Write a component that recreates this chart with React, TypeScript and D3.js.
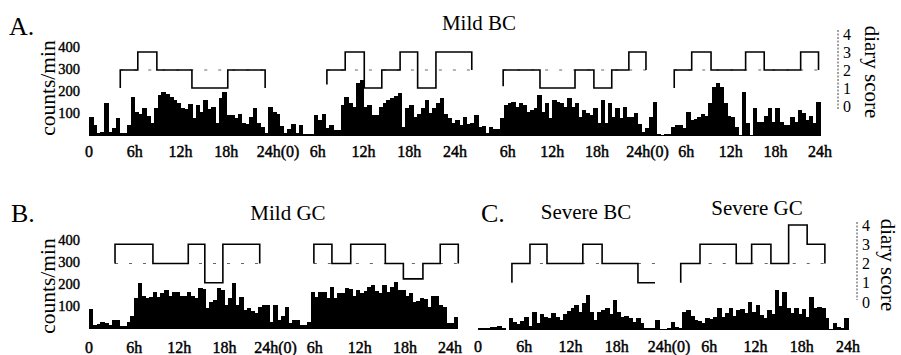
import React from "react";
import * as d3 from "d3";

// ---------- data ----------
const xTickHours = [0, 6, 12, 18, 24, 30, 36, 42, 48];
const xTickLabels = ["0", "6h", "12h", "18h", "24h(0)", "6h", "12h", "18h", "24h"];
const countTicks = [100, 200, 300, 400];
const scoreTicks = [0, 1, 2, 3, 4];
const binHours = 0.5;

// activity counts/min, 30-min bins starting at 0h
const mildBC1Counts = [
  85, 50, 12, 20, 150, 20, 35, 80, 12, 12,
  50, 175, 110, 100, 125, 90, 60, 125, 185, 200,
  190, 175, 160, 150, 125, 120, 145, 80, 140, 110,
  160, 120, 130, 60, 170, 200, 95, 95, 80, 100,
  60, 55, 85, 125, 60, 40, 15, 130, 110, 100,
  45, 12, 30, 55, 15, 50, 8, 8, 8, 95,
  70, 100, 35, 50, 25, 25, 140, 175, 150, 130,
  240, 250, 130, 140, 95, 95, 130, 150, 160, 170,
  180, 195, 40, 125, 140, 85, 100, 125, 160, 105,
  125, 150, 170, 100, 80, 60, 70, 50, 85, 55,
  60, 95, 40,
];
const mildBC2Counts = [
  0, 0, 0, 0, 40, 45, 15, 40, 30, 30,
  80, 140, 150, 155, 130, 150, 140, 110, 115, 125,
  185, 110, 150, 80, 160, 155, 150, 130, 170, 130,
  150, 85, 115, 105, 95, 125, 60, 160, 60, 150,
  85, 125, 80, 130, 85, 85, 105, 55, 20, 35,
  85, 155, 10, 5, 10, 10, 40, 50, 50, 35,
  110, 70, 75, 85, 100, 90, 150, 220, 240, 220,
  150, 90, 85, 40, 5, 200, 60, 5, 125, 65,
  65, 90, 125, 65, 125, 65, 50, 50, 85, 65,
  115, 105, 70, 90, 60, 155,
];
const mildGCCounts = [
  90, 20, 22, 30, 28, 18, 40, 40, 12, 12,
  30, 60, 140, 205, 150, 140, 145, 165, 145, 160,
  175, 150, 165, 165, 150, 150, 165, 150, 140, 185,
  180, 95, 120, 130, 185, 175, 110, 140, 205, 110,
  145, 85, 95, 80, 70, 100, 107, 107, 30, 107,
  40, 60, 100, 25, 40, 40, 18, 18, 30, 165,
  145, 165, 165, 140, 190, 140, 160, 160, 185, 180,
  150, 175, 160, 170, 190, 200, 170, 160, 200, 165,
  190, 210, 175, 175, 150, 160, 120, 125, 140, 135,
  100, 150, 150, 110, 100, 25, 25, 55,
];
const severeCounts = [
  8, 8, 8, 12, 15, 18, 10, 0, 55, 37,
  25, 40, 60, 20, 80, 30, 70, 60, 55, 75,
  60, 45, 70, 85, 100, 112, 80, 120, 157, 80,
  45, 80, 90, 97, 70, 135, 80, 60, 65, 55,
  35, 52, 30, 10, 8, 10, 45, 5, 5, 8,
  35, 12, 8, 80, 90, 65, 45, 40, 30, 55,
  50, 60, 97, 58, 75, 100, 65, 90, 95, 75,
  125, 80, 112, 67, 55, 90, 70, 180, 110, 170,
  100, 75, 100, 70, 95, 60, 150, 100, 105, 100,
  55, 5, 30, 15, 10, 55,
];

// diary score step traces (hour, score)
const bc1Day1Hours = [4.1, 4.1, 6.4, 8.9, 13.5, 18.2, 23.1];
const bc1Day1Scores = [1, 2, 3, 2, 1, 2, 1];
const bc1Day2Hours = [31.2, 31.2, 33.6, 36.1, 38.4, 40.8, 43.1, 45.5, 50.2];
const bc1Day2Scores = [1.2, 2, 3, 1, 2, 3, 1, 3, 2];
const bc2Day1Hours = [5.4, 5.4, 10.35, 15.06, 17.6, 20.0, 22.3, 24.6];
const bc2Day1Scores = [1.1, 2, 1, 2, 1, 2, 3, 2];
const bc2Day2Hours = [28.4, 28.4, 30.75, 33.35, 38.0, 40.5, 45.4, 47.8];
const bc2Day2Scores = [1, 2, 3, 2, 3, 2, 3, 2];
const gcDay1Hours = [3.46, 3.46, 8.5, 13.2, 15.4, 17.8, 22.7];
const gcDay1Scores = [2, 3, 2, 3, 1, 3, 2];
const gcDay2Hours = [29.9, 29.9, 32.3, 34.8, 39.4, 41.8, 44.4, 46.7, 49.1];
const gcDay2Scores = [2, 3, 2, 3, 2, 1.2, 2, 3, 2];
const sevBCHours = [4.4, 4.4, 6.74, 8.95, 13.6, 16.1, 20.75, 22.96];
const sevBCScores = [1, 2, 3, 2, 3, 2, 1, 1];
const sevGCHours = [26.3, 26.3, 28.8, 33.5, 35.5, 38.0, 40.3, 42.7, 45.0];
const sevGCScores = [1, 2, 3, 2, 3, 2, 4, 3, 2];

// ---------- drawing ----------
const serif = '"Liberation Serif", "Times New Roman", Times, "DejaVu Serif", serif';

type Trace = { t: number[]; v: number[] };

function Record(props: {
  counts: number[];
  x0: number; x1: number;
  base: number; top: number;
  d0: number; d4: number;
  traces: Trace[];
  firstLabel: number;
  labelY: number;
}) {
  const { counts, x0, x1, base, top, d0, d4, traces, firstLabel, labelY } = props;
  const xs = d3.scaleLinear().domain([0, 48]).range([x0, x1]);
  const ys = d3.scaleLinear().domain([0, 400]).range([base, top]);
  const ds = d3.scaleLinear().domain([0, 4]).range([d0, d4]);
  const bw = xs(binHours) - xs(0);
  return (
    <g>
      <g shapeRendering="crispEdges">
        {counts.map((c, i) =>
          c > 0 ? (
            <rect
              key={i}
              x={xs(i * binHours)}
              y={ys(c)}
              width={bw + 0.7}
              height={base - ys(c)}
              fill="#000"
            />
          ) : null
        )}
      </g>
      {traces.map((tr, k) => {
        const pts: [number, number][] = tr.t.map((t, i) => [xs(t), ds(tr.v[i])]);
        const p = d3.line().curve(d3.curveStepAfter)(pts) || "";
        return (
          <g key={k}>
            <line
              x1={xs(tr.t[0])}
              x2={xs(tr.t[tr.t.length - 1])}
              y1={ds(2)}
              y2={ds(2)}
              stroke="#666"
              strokeWidth={1}
              strokeDasharray="3,11"
            />
            <path d={p} fill="none" stroke="#000" strokeWidth={1.6} />
          </g>
        );
      })}
      {xTickHours.map((h, i) =>
        i >= firstLabel ? (
          <text
            key={i}
            x={xs(h) + (xTickLabels[i] === "24h(0)" ? 6 : 0)}
            y={labelY}
            textAnchor="middle"
            fontFamily={serif}
            fontSize={16}
            stroke="#000"
            strokeWidth={0.45}
          >
            {xTickLabels[i]}
          </text>
        ) : null
      )}
    </g>
  );
}

function CountAxis(props: { base: number; top: number; cy: number }) {
  const ys = d3.scaleLinear().domain([0, 400]).range([props.base, props.top]);
  return (
    <g>
      {countTicks.map((v) => (
        <text key={v} x={80} y={ys(v) + 4.5} textAnchor="end" fontFamily={serif} fontSize={14.5} stroke="#000" strokeWidth={0.4}>
          {v}
        </text>
      ))}
      <text
        transform={`translate(55,${props.cy}) rotate(-90)`}
        textAnchor="middle"
        fontFamily={serif}
        fontSize={21.5}
      >
        counts/min
      </text>
    </g>
  );
}

function ScoreAxis(props: { d0: number; d4: number; x: number; lineTop: number; lineBot: number; labelX: number; cy: number }) {
  const ds = d3.scaleLinear().domain([0, 4]).range([props.d0, props.d4]);
  return (
    <g>
      <line x1={props.x} x2={props.x} y1={props.lineTop} y2={props.lineBot} stroke="#444" strokeWidth={1} strokeDasharray="2,1.5" />
      {scoreTicks.map((v) => (
        <text key={v} x={props.x + 9} y={ds(v) + 5.5} textAnchor="middle" fontFamily={serif} fontSize={16}>
          {v}
        </text>
      ))}
      <text
        transform={`translate(${props.labelX},${props.cy}) rotate(90)`}
        textAnchor="middle"
        fontFamily={serif}
        fontSize={21}
      >
        diary score
      </text>
    </g>
  );
}

export default function App() {
  return (
    <svg
      width={901}
      height={355}
      viewBox="0 0 901 355"
      style={{ position: "absolute", left: 0, top: 0, background: "#fff" }}
    >
      <rect x={0} y={0} width={901} height={355} fill="#fff" />
      {/* titles */}
      <text x={9} y={35} fontFamily={serif} fontSize={26}>A.</text>
      <text x={479} y={30} textAnchor="middle" fontFamily={serif} fontSize={21}>Mild BC</text>
      <text x={11} y={222} fontFamily={serif} fontSize={26}>B.</text>
      <text x={288} y={220} textAnchor="middle" fontFamily={serif} fontSize={21}>Mild GC</text>
      <text x={481} y={222} fontFamily={serif} fontSize={26}>C.</text>
      <text x={586} y={219} textAnchor="middle" fontFamily={serif} fontSize={21}>Severe BC</text>
      <text x={757} y={215} textAnchor="middle" fontFamily={serif} fontSize={21}>Severe GC</text>

      <CountAxis base={136} top={47} cy={88} />
      <CountAxis base={329} top={240} cy={286} />
      <ScoreAxis d0={106} d4={34} x={838} lineTop={30} lineBot={110} labelX={865} cy={72} />
      <ScoreAxis d0={302} d4={225} x={857} lineTop={222} lineBot={300} labelX={881} cy={265} />

      <Record
        counts={mildBC1Counts}
        x0={89} x1={455} base={136} top={47} d0={106} d4={34}
        traces={[{ t: bc1Day1Hours, v: bc1Day1Scores }, { t: bc1Day2Hours, v: bc1Day2Scores }]}
        firstLabel={0} labelY={157}
      />
      <Record
        counts={mildBC2Counts}
        x0={463} x1={820} base={136} top={47} d0={106} d4={34}
        traces={[{ t: bc2Day1Hours, v: bc2Day1Scores }, { t: bc2Day2Hours, v: bc2Day2Scores }]}
        firstLabel={1} labelY={157}
      />
      <Record
        counts={mildGCCounts}
        x0={89} x1={450} base={329} top={240} d0={302} d4={225}
        traces={[{ t: gcDay1Hours, v: gcDay1Scores }, { t: gcDay2Hours, v: gcDay2Scores }]}
        firstLabel={0} labelY={353}
      />
      <Record
        counts={severeCounts}
        x0={478} x1={848} base={330} top={241} d0={302} d4={225}
        traces={[{ t: sevBCHours, v: sevBCScores }, { t: sevGCHours, v: sevGCScores }]}
        firstLabel={0} labelY={352}
      />
    </svg>
  );
}
